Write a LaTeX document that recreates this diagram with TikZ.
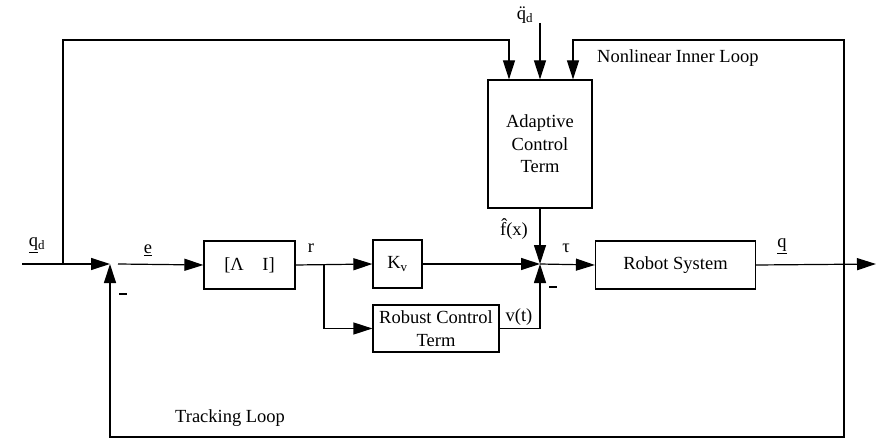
\documentclass[tikz,border=0pt]{standalone}
\usepackage{fontspec}
\setmainfont{Liberation Serif}
\usetikzlibrary{arrows.meta}
\begin{document}
\begin{tikzpicture}[x=1pt,y=-1pt,
  every node/.style={font=\fontsize{18.5}{22.5}\selectfont},
  blk/.style={draw,line width=1.2pt,minimum width=#1,inner sep=0pt},
  wire/.style={line width=1.2pt},
  arr/.style={wire,-{Triangle[length=19pt,width=12pt]}},
  lbl/.style={inner sep=0pt}]
\useasboundingbox (0,0) rectangle (876,441);
% blocks
\node[blk=91pt,minimum height=48pt] (li) at (249.5,265) {[Λ\quad I]};
\node[blk=49pt,minimum height=48pt] (kv) at (397.5,264) {K\textsubscript{v}};
\node[blk=126pt,minimum height=47pt,align=center] (rob) at (436,328.5) {Robust Control\\Term};
\node[blk=104pt,minimum height=128pt,align=center] (ad) at (540,144) {Adaptive\\Control\\Term};
\node[blk=160pt,minimum height=48pt] (sys) at (675.5,265) {Robot System};
% coordinates
\coordinate (start) at (22,264);
\coordinate (br1) at (63,264);
\coordinate (sum1) at (110,264);
\coordinate (eout) at (118,264);
\coordinate (br2) at (324,264);
\coordinate (sum2) at (540,264);
\coordinate (br3) at (844,264);
\coordinate (out) at (876,264);
\coordinate (topl) at (509,40);
\coordinate (topr) at (573,40);
\coordinate (qdd) at (540,23);
\coordinate (bot) at (110,437);
% connectors
\draw[arr] (start) -- (sum1);
\draw[arr] (br1) |- (topl) -- ([xshift=-31pt]ad.north);
\draw[arr] (qdd) -- (ad.north);
\draw[arr] (br3) |- (topr) -- ([xshift=33pt]ad.north);
\draw[arr] (br3) |- (bot) -- (sum1);
\draw[arr] (eout) -- (li.west);
\draw[arr] (li.east) -- (kv.west);
\draw[arr] (br2) |- (rob.west);
\draw[arr] (kv.east) -- (sum2);
\draw[arr] (ad.south) -- (sum2);
\draw[arr] (rob.east) -| (sum2);
\draw[arr] (sum2) -- (sys.west);
\draw[arr] (sys.east) -- (out);
% labels
\node[lbl] (lqd) at (37,245) {\underline{q}\textsubscript{d}};
\node[lbl] (le) at (148,250) {\underline{e}};
\node[lbl] (lr) at (311,248) {r};
\node[lbl] (m1) at (123,294) {\rule{8pt}{1.6pt}};
\node[lbl] (lf) at (514,229) {\^{f}(x)};
\node[lbl] (ltau) at (566,248) {τ};
\node[lbl] (lv) at (519,317) {v(t)};
\node[lbl] (m2) at (553,287) {\rule{8pt}{1.6pt}};
\node[lbl] (lq) at (782,246) {\underline{q}};
\node[lbl] (lqdd) at (525,15) {\"{q}\textsubscript{d}};
\node[lbl,anchor=west] (nil) at (597,58) {Nonlinear Inner Loop};
\node[lbl,anchor=west] (tl) at (175,418) {Tracking Loop};
\end{tikzpicture}
\end{document}
